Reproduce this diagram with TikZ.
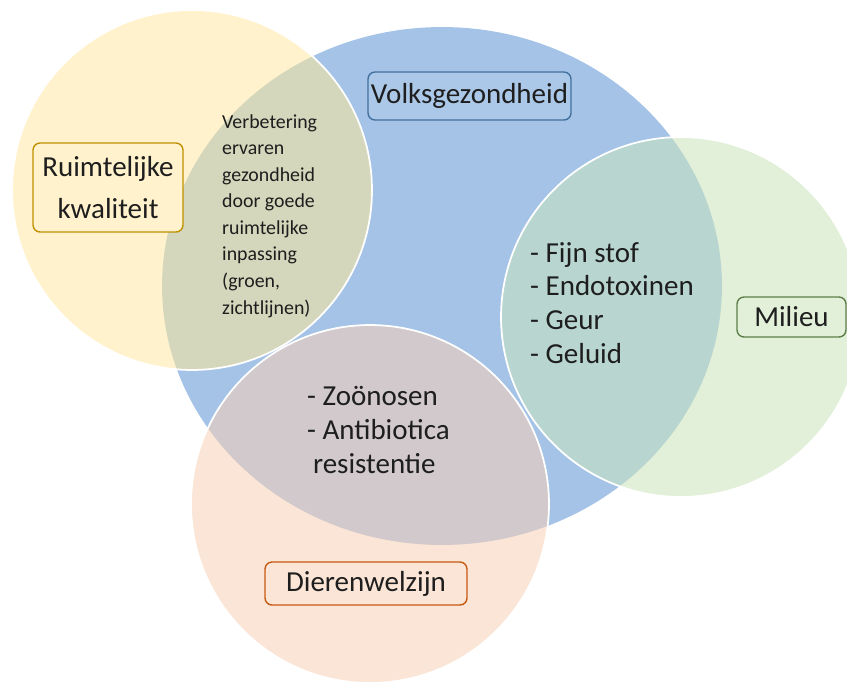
\documentclass[tikz,border=0pt]{standalone}
\usepackage{fontspec}
\setmainfont{Carlito}
\definecolor{volksfill}{HTML}{A4C3E7}
\definecolor{ruimtefill}{HTML}{FFF2CC}
\definecolor{milieufill}{HTML}{E2F0D9}
\definecolor{dierenfill}{HTML}{FBE5D6}
\definecolor{ruimtevolks}{HTML}{D4D7BB}
\definecolor{milieuvolks}{HTML}{B8D6CF}
\definecolor{dierenvolks}{HTML}{D1C9CB}
\definecolor{volksline}{HTML}{41719C}
\definecolor{ruimteline}{HTML}{BF9000}
\definecolor{milieuline}{HTML}{5E7F4A}
\definecolor{dierenline}{HTML}{C55A11}
\definecolor{textgrey}{HTML}{1E1E1E}

\begin{document}
\begin{tikzpicture}[x=0.02cm, y=-0.02cm,
    labelbox/.style={draw, rounded corners=4pt, line width=0.8pt, text=textgrey,
      inner sep=0pt, align=center, font=\fontsize{16.5}{23.8}\selectfont},
    listtext/.style={anchor=west, align=left, text=textgrey,
      font=\fontsize{16.5}{19.3}\selectfont},
    ringline/.style={white, line width=1pt}]
    \useasboundingbox (0,0) rectangle (847,687);

    \coordinate (cvolks) at (442,286);
    \coordinate (cruimte) at (192,190);
    \coordinate (cmilieu) at (681,317);
    \coordinate (cdieren) at (370,504);

    \fill[volksfill] (cvolks) ellipse [x radius=5.6cm, y radius=5.18cm];
    \fill[ruimtefill] (cruimte) circle [radius=3.6cm];
    \fill[milieufill] (cmilieu) circle [radius=3.6cm];
    \fill[dierenfill] (cdieren) circle [radius=3.58cm];
    \begin{scope}
        \clip (cvolks) ellipse [x radius=5.6cm, y radius=5.18cm];
        \fill[ruimtevolks] (cruimte) circle [radius=3.6cm];
        \fill[milieuvolks] (cmilieu) circle [radius=3.6cm];
        \fill[dierenvolks] (cdieren) circle [radius=3.58cm];
    \end{scope}
    \draw[ringline] (cruimte) circle [radius=3.6cm];
    \draw[ringline] (cmilieu) circle [radius=3.6cm];
    \draw[ringline] (cdieren) circle [radius=3.58cm];

    \node[labelbox, draw=volksline, fill=volksfill!92!white, minimum width=4.06cm,
      minimum height=0.96cm] (volks) at (469.5,96) {Volksgezondheid};
    \node[labelbox, draw=ruimteline, fill=ruimtefill, minimum width=3cm,
      minimum height=1.78cm] (ruimte) at (108,187.5) {Ruimtelijke\\kwaliteit};
    \node[labelbox, draw=milieuline, fill=milieufill, minimum width=2.18cm,
      minimum height=0.8cm] (milieu) at (791.5,317) {Milieu};
    \node[labelbox, draw=dierenline, fill=dierenfill, minimum width=4.04cm,
      minimum height=0.86cm] (dieren) at (366,583.5) {Dierenwelzijn};

    \node[anchor=west, align=left, text=textgrey, font=\fontsize{11.3}{15.1}\selectfont]
      (verbet) at (216,216) {Verbetering\\ervaren\\gezondheid\\door goede\\ruimtelijke\\inpassing\\(groen,\\zichtlijnen)};
    \node[listtext] (milieulist) at (524,303) {- Fijn stof\\- Endotoxinen\\- Geur\\- Geluid};
    \node[listtext] (dierenlist) at (301,430) {- Zoönosen\\- Antibiotica\\\hspace{0.2em}resistentie};
\end{tikzpicture}
\end{document}
